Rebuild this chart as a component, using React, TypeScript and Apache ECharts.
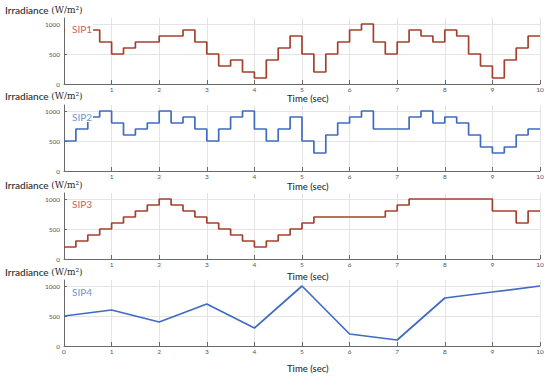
import React, { useEffect, useRef } from "react";
import * as echarts from "echarts";

const STEP = 0.25;
const sip1Values = [
  900, 900, 900, 700, 500, 600, 700, 700, 800, 800,
  900, 700, 500, 300, 400, 200, 100, 400, 600, 800,
  500, 200, 500, 700, 900, 1000, 700, 500, 700, 900,
  800, 700, 900, 800, 500, 300, 100, 400, 600, 800,
];
const sip2Values = [
  500, 700, 900, 1000, 800, 600, 700, 800, 1000, 800,
  900, 700, 500, 700, 900, 1000, 700, 500, 700, 900,
  500, 300, 600, 800, 900, 1000, 700, 700, 700, 900,
  1000, 800, 900, 800, 600, 400, 300, 400, 600, 700,
];
const sip3Values = [
  200, 300, 400, 500, 600, 700, 800, 900, 1000, 900,
  800, 700, 600, 500, 400, 300, 200, 300, 400, 500,
  600, 700, 700, 700, 700, 700, 700, 800, 900, 1000,
  1000, 1000, 1000, 1000, 1000, 1000, 800, 800, 600, 800,
];
const sip4Times = [0, 1, 2, 3, 4, 5, 6, 7, 8, 9, 10];
const sip4Values = [500, 600, 400, 700, 300, 1000, 200, 100, 800, 900, 1000];
const xTicks = [0, 1, 2, 3, 4, 5, 6, 7, 8, 9, 10];
const yTicks = [0, 500, 1000];
const seriesNames = ["SIP1", "SIP2", "SIP3", "SIP4"];

const RED = "#a4412d";
const BLUE = "#3f6cc0";
const RED_LABEL = "#cf5e55";
const BLUE_LABEL = "#6897d3";

function stepData(values: number[]) {
  const d = values.map((v, i) => [i * STEP, v]);
  d.push([values.length * STEP, values[values.length - 1]]);
  return d;
}

export default function App() {
  const ref = useRef<HTMLDivElement>(null);
  useEffect(() => {
    if (!ref.current) return;
    const chart = echarts.init(ref.current, null, { renderer: "svg" });
    const tops = [18, 105, 193, 280];
    const titleY = [5, 91, 180, 267];
    const timeY = [93, 181, 271, 363];
    const labelY = [24, 112, 199, 287];
    const grids = tops.map((t) => ({ left: 64, right: 10, top: t, height: 66 }));
    const xAxes = tops.map((_, i) => ({
      type: "value",
      gridIndex: i,
      min: xTicks[0],
      max: xTicks[xTicks.length - 1],
      interval: 1,
      axisLine: { show: true, lineStyle: { color: "#6a6a6a", width: 1 } },
      axisTick: { show: true, inside: true, length: 4, lineStyle: { color: "#6a6a6a" } },
      axisLabel: {
        fontSize: 6.5,
        color: "#555",
        margin: 2,
        fontFamily: "Lato",
        formatter: (v: number) => (i < 3 && v === 0 ? "" : String(v)),
      },
      splitLine: { show: true, lineStyle: { color: "#e4e4e4", width: 1 } },
    }));
    const yAxes = tops.map((_, i) => ({
      type: "value",
      gridIndex: i,
      min: yTicks[0],
      max: 1100,
      interval: 500,
      axisLine: { show: true, lineStyle: { color: "#6a6a6a", width: 1 } },
      axisTick: { show: true, inside: true, length: 3, lineStyle: { color: "#6a6a6a" } },
      axisLabel: {
        fontSize: 6.5,
        color: "#555",
        margin: 4,
        fontFamily: "Lato",
        showMaxLabel: false,
        formatter: (v: number) => (yTicks.indexOf(v) >= 0 ? String(v) : ""),
      },
      splitLine: {
        show: true,
        lineStyle: { color: ["#e4e4e4", "#e4e4e4", "#e4e4e4", "rgba(0,0,0,0)"], width: 1 },
      },
    }));
    const datas = [
      stepData(sip1Values),
      stepData(sip2Values),
      stepData(sip3Values),
      sip4Times.map((t, i) => [t, sip4Values[i]]),
    ];
    const colors = [RED, BLUE, RED, BLUE];
    const labelColors = [RED_LABEL, BLUE_LABEL, RED_LABEL, BLUE_LABEL];
    const series = datas.map((d, i) => ({
      type: "line",
      name: seriesNames[i],
      xAxisIndex: i,
      yAxisIndex: i,
      data: d,
      step: i < 3 ? "end" : false,
      showSymbol: false,
      lineStyle: { color: colors[i], width: 1.7 },
      z: 3,
    }));
    const graphic: any[] = [];
    tops.forEach((_, i) => {
      graphic.push({
        type: "text",
        left: 5,
        top: titleY[i],
        style: {
          text: "{a|Irradiance }{b|(W/m²)}",
          rich: {
            a: { fontFamily: "Lato", fontSize: 10, fill: "#2b2b2b", fontWeight: 500 },
            b: { fontFamily: "DejaVu Serif", fontSize: 9, fill: "#2b2b2b" },
          },
        },
      });
      graphic.push({
        type: "text",
        left: 287,
        top: timeY[i],
        style: { text: "Time (sec)", fontFamily: "Lato", fontSize: 9.5, fill: "#2b2b2b", fontWeight: 500 },
      });
      graphic.push({
        type: "text",
        left: i === 0 ? 65 : i === 1 ? 70 : 72,
        top: labelY[i],
        z: 10,
        style: {
          text: seriesNames[i],
          fontFamily: "Lato",
          fontSize: 10,
          fill: labelColors[i],
          backgroundColor: i < 2 ? "#fff" : "transparent",
          padding: i === 0 ? [0, 1, 0, 7] : i === 1 ? [0, 1, 0, 2] : 0,
        },
      });
    });
    chart.setOption({
      animation: false,
      backgroundColor: "#fff",
      grid: grids,
      xAxis: xAxes,
      yAxis: yAxes,
      series,
      graphic,
    });
    return () => chart.dispose();
  }, []);
  return (
    <div
      ref={ref}
      style={{ position: "absolute", left: 0, top: 0, width: 550, height: 379, background: "#fff" }}
    />
  );
}
